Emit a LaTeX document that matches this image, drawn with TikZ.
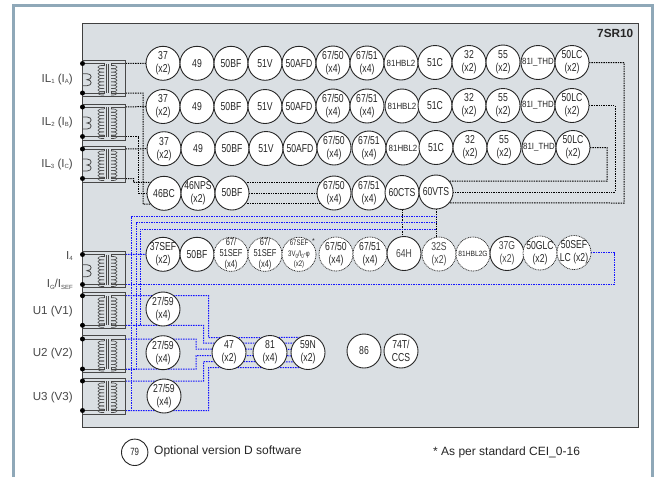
\documentclass[tikz,border=0pt]{standalone}
\usepackage{fontspec}
\setmainfont{Liberation Sans}
\newfontfamily\cond[FakeStretch=0.75]{Liberation Sans}
\newfontfamily\condb[FakeStretch=0.88]{Liberation Sans}
\pgfdeclarelayer{wires}
\pgfsetlayers{wires,main}
\definecolor{framec}{HTML}{8FA8B8}
\definecolor{panelc}{HTML}{DADFE3}
\definecolor{inkc}{HTML}{262626}
\definecolor{softc}{HTML}{484848}
\definecolor{bluew}{HTML}{1414FF}
\definecolor{boxc}{HTML}{484848}
\newcommand{\lsub}[1]{\raisebox{-1.8pt}{\fontsize{6}{6}\selectfont #1}}
\newcommand{\rel}[5][]{\node[relay,#1] (#2) at (#3,#4) {#5};}
\newcommand{\coilx}[4]{% base x, y from, y to, direction
  \pgfmathsetmacro{\cstep}{(#3-#2)/9}
  \foreach \k in {0,...,8}{
    \pgfmathsetmacro{\ya}{#2+\k*\cstep}
    \pgfmathsetmacro{\yb}{\ya+\cstep}
    \draw[wind] (#1,\ya) .. controls ({#1+#4*8},{\ya-0.6}) and ({#1+#4*8},{\yb+0.6}) .. (#1,\yb);
  }}
\newcommand{\xfmr}[6]{% name, box top, box bottom, term a, term b, burden 0/1
  \draw[xbox] (82.5,#2) rectangle (125.5,#3);
  \draw[wind] (82.5,#4) -- (104,#4) -- (104,{#4+2});
  \draw[wind] (82.5,#5) -- (104,#5) -- (104,{#5-2});
  \draw[wind] (125.5,#4) -- (111,#4) -- (111,{#4+2});
  \draw[wind] (125.5,#5) -- (111,#5) -- (111,{#5-2});
  \coilx{104}{#4+2}{#5-2}{-1}
  \coilx{111}{#4+2}{#5-2}{1}
  \draw[wind] (106.2,#4) -- (106.2,#5) (107.8,#4) -- (107.8,#5);
  \ifnum#6=1
    \pgfmathsetmacro{\bt}{#2+13}
    \draw[wind,line width=.8pt] (82.5,\bt) -- (87,\bt) .. controls (92.5,\bt) and (92.5,\bt+6) .. (87,\bt+6)
       .. controls (92.5,\bt+6) and (92.5,\bt+12) .. (87,\bt+12) -- (82.5,\bt+12);
  \fi
  \node[term] (#1a) at (82.5,#4) {};
  \node[term] (#1b) at (82.5,#5) {};
  \coordinate (#1p) at (125.5,#4);
  \coordinate (#1q) at (125.5,#5);
}
\tikzset{
  relay/.style={circle,draw=inkc,line width=.9pt,fill=white,minimum size=34pt,inner sep=-7pt,outer sep=0pt,
    align=center,text=inkc,font=\cond\fontsize{11.5}{13}\selectfont},
  optional/.style={draw=inkc,line width=.75pt,dash pattern=on .9pt off .8pt},
  tiny81/.style={font=\condb\fontsize{9}{10}\selectfont},
  tiny82/.style={font=\condb\fontsize{7.6}{10}\selectfont},
  sef/.style={font=\cond\fontsize{10}{11}\selectfont},
  soft/.style={text=softc},
  term/.style={circle,fill=black,draw=none,minimum size=5pt,inner sep=0pt,outer sep=0pt},
  xbox/.style={draw=boxc,line width=1pt},
  wind/.style={draw=boxc,line width=.6pt},
  bw/.style={draw=black,line width=1pt,dash pattern=on 1.4pt off 1pt},
  blw/.style={draw=bluew,line width=1pt,dash pattern=on 1.5pt off 1pt},
  lab/.style={anchor=east,text=softc,inner sep=0pt,font=\fontsize{11.6}{13}\selectfont},
  foot/.style={anchor=west,text=inkc,inner sep=0pt,font=\fontsize{12}{14}\selectfont},
}
\begin{document}
\begin{tikzpicture}[x=1pt,y=-1pt]
\useasboundingbox (0,0) rectangle (655,477);
\begin{pgfonlayer}{wires}
\fill[white] (0,0) rectangle (655,477);
\draw[framec,line width=2.6pt] (13.3,477) -- (13.3,5.5) -- (652.7,5.5) -- (652.7,477);
\fill[panelc] (82.5,23.5) rectangle (638,427);
\draw[draw=black!75,line width=.9pt] (82.5,23.5) rectangle (638,427);
\end{pgfonlayer}

\node[anchor=east,inner sep=0pt,text=inkc,font=\bfseries\fontsize{11.8}{13}\selectfont] (title) at (633.5,33.5) {7SR10};

% transformers
\xfmr{ta}{60.7}{96.7}{63.5}{93}{1}
\xfmr{tb}{104}{140.5}{107}{136.5}{1}
\xfmr{tc}{146}{182}{149}{178.5}{1}
\xfmr{td}{251.7}{287.7}{254.5}{284.5}{1}
\xfmr{te}{292.7}{328.3}{295.7}{325.3}{0}
\xfmr{tf}{335.7}{372.3}{339}{369}{0}
\xfmr{tg}{378.3}{414}{381}{410.5}{0}

% row 1
\rel{a1}{163}{63.3}{37\\(x2)}
\rel{a2}{197}{63.3}{49}
\rel{a3}{231}{63.3}{50BF}
\rel{a4}{265}{63.3}{51V}
\rel{a5}{299}{63.3}{50AFD}
\rel{a6}{333}{63}{67/50\\(x4)}
\rel{a7}{367}{63}{67/51\\(x4)}
\rel[tiny81]{a8}{401}{63}{81HBL2}
\rel{a9}{435}{62.5}{51C}
\rel{a10}{469}{62.5}{32\\(x2)}
\rel{a11}{503}{62}{55\\(x2)}
\rel[tiny81]{a12}{538}{62.5}{81I\_THD}
\rel{a13}{572}{62.5}{50LC\\(x2)}
% row 2
\rel{b1}{163}{106.5}{37\\(x2)}
\rel{b2}{197}{106.5}{49}
\rel{b3}{231}{106.5}{50BF}
\rel{b4}{265}{106.5}{51V}
\rel{b5}{299}{106.5}{50AFD}
\rel{b6}{333}{106}{67/50\\(x4)}
\rel{b7}{367}{106}{67/51\\(x4)}
\rel[tiny81]{b8}{402}{106}{81HBL2}
\rel{b9}{435}{105.5}{51C}
\rel{b10}{469}{105.5}{32\\(x2)}
\rel{b11}{503}{105.5}{55\\(x2)}
\rel[tiny81]{b12}{538}{105.5}{81I\_THD}
\rel{b13}{572}{105.5}{50LC\\(x2)}
% row 3
\rel{c1}{164}{148.7}{37\\(x2)}
\rel{c2}{198}{148.7}{49}
\rel{c3}{232}{148.5}{50BF}
\rel{c4}{266}{148.5}{51V}
\rel{c5}{300}{148.5}{50AFD}
\rel{c6}{334}{148}{67/50\\(x4)}
\rel{c7}{369}{148}{67/51\\(x4)}
\rel[tiny81]{c8}{403}{148}{81HBL2}
\rel{c9}{436}{147.5}{51C}
\rel{c10}{470}{147.5}{32\\(x2)}
\rel{c11}{504}{147.5}{55\\(x2)}
\rel[tiny81]{c12}{539}{147.5}{81I\_THD}
\rel{c13}{573}{147.5}{50LC\\(x2)}
% row 4
\rel{d1}{164}{193.3}{46BC}
\rel{d2}{198}{193.3}{46NPS\\(x2)}
\rel{d3}{232}{193}{50BF}
\rel{d4}{334}{193}{67/50\\(x4)}
\rel{d5}{369}{193}{67/51\\(x4)}
\rel{d6}{402}{192.5}{60CTS}
\rel{d7}{436}{192}{60VTS}
% row 5
\rel{e1}{163}{254.3}{37SEF\\(x2)}
\rel{e2}{197}{254.3}{50BF}
\rel[optional,sef]{e3}{231}{254.3}{67/\\51SEF\\(x4)}
\rel[optional,sef]{e4}{265}{254.3}{67/\\51SEF\\(x4)}
\rel[optional,font=\cond\fontsize{8}{10.5}\selectfont]{e5}{299}{254.3}{67SEF\\3V\lsub{0}/I\lsub{0}-φ\\(x2)}
\rel[optional]{e6}{336}{254}{67/50\\(x4)}
\rel[optional]{e7}{370}{254}{67/51\\(x4)}
\rel[soft]{e8}{404}{253.5}{64H}
\rel[optional,soft]{e9}{439}{254}{32S\\(x2)}
\rel[optional,tiny82]{e10}{473}{254}{81HBL2G}
\rel[soft]{e11}{507}{253.5}{37G\\(x2)}
\rel[optional]{e12}{540}{253}{50GLC\\(x2)}
\rel[optional]{e13}{574}{252.5}{50SEF\\LC (x2)}
\node[inner sep=0pt,text=inkc,font=\fontsize{7}{8}\selectfont] (star) at (313.5,241.5) {*};
% voltage
\rel{f1}{163}{309}{27/59\\(x4)}
\rel{f2}{163}{352.7}{27/59\\(x4)}
\rel{f3}{164}{396}{27/59\\(x4)}
\rel{g1}{229}{352.5}{47\\(x2)}
\rel{g2}{270}{352.5}{81\\(x4)}
\rel{g3}{308}{352.5}{59N\\(x2)}
\rel{h1}{364}{351}{86}
\rel{h2}{401}{351}{74T/\\CCS}

% labels
\node[lab] (l1) at (73,79) {IL\lsub{1} (I\lsub{A})};
\node[lab] (l2) at (73,122) {IL\lsub{2} (I\lsub{B})};
\node[lab] (l3) at (73,164) {IL\lsub{3} (I\lsub{C})};
\node[lab] (l4) at (73,256) {I\lsub{4}};
\node[lab] (l5) at (73,284.5) {I\lsub{G}/I\lsub{SEF}};
\node[lab] (l6) at (73,311.5) {U1 (V1)};
\node[lab] (l7) at (73,353) {U2 (V2)};
\node[lab] (l8) at (73,397.5) {U3 (V3)};

% key
\node[relay,minimum size=26.4pt,font=\cond\fontsize{10.5}{12}\selectfont] (key) at (134.7,452.3) {79};
\node[foot] (k1) at (154,451.5) {Optional version D software};
\node[foot] (k2) at (433,452.5) {* As per standard CEI\_0-16};

\begin{pgfonlayer}{wires}
% black current wires
\draw[bw] (tap) -- (a1.180);
\draw[bw] (tbp) -- (b1.180);
\draw[bw] (tcp) -- (c1.180);
\draw[bw] (taq) -- (143,93) -- (143,204.2) -- (d1.-140);
\draw[bw] (tbq) -- (138.5,136.5) -- (138.5,193.3) -- (d1.180);
\draw[bw] (tcq) -- (133.5,178.5) -- (133.5,182.4) -- (d1.140);
\draw[bw] (d3.40) -- (d4.140);
\draw[bw] (d3.0) -- (d4.180);
\draw[bw] (d3.-40) -- (d4.-140);
\draw[bw] (c13.0) -- (607,147.5) -- (607,181) -- (d7.40);
\draw[bw] (b13.0) -- (615,105.5) -- (615,192) -- (d7.0);
\draw[bw] (a13.0) -- (624,62.5) -- (624,203) -- (d7.-40);
\draw[bw] (d6.-90) -- (d6.-90 |- e8.90);
\draw[bw] (d7.-90) -- (d7.-90 |- e9.90);
% blue earth wires
\draw[blw] (tdp) -- (e1.180);
\draw[blw] (tdq) -- (614,284.5) -- (614,252.5) -- (e13.0);
\draw[blw] (teq) -- (140,325.3) -- (140,229) -- (436.7,229);
\draw[blw] (tfq) -- (136,369) -- (136,222) -- (436.7,222);
\draw[blw] (tgq) -- (131,410.5) -- (131,216) -- (436.7,216);
\draw[blw] (tep) -- (208.5,295.7) -- (208.5,337.5) -- (g3.118);
\draw[blw] (teq) -- (203.5,325.3) -- (203.5,343) -- (g3.146);
\draw[blw] (tfp) -- (196,339) -- (196,349.2) -- (g3.169);
\draw[blw] (tfq) -- (196,369) -- (196,355.7) -- (g3.-169);
\draw[blw] (tgp) -- (203.5,381) -- (203.5,361.7) -- (g3.-147);
\draw[blw] (tgq) -- (208.5,410.5) -- (208.5,367.7) -- (g3.-117);
\end{pgfonlayer}
\end{tikzpicture}
\end{document}
